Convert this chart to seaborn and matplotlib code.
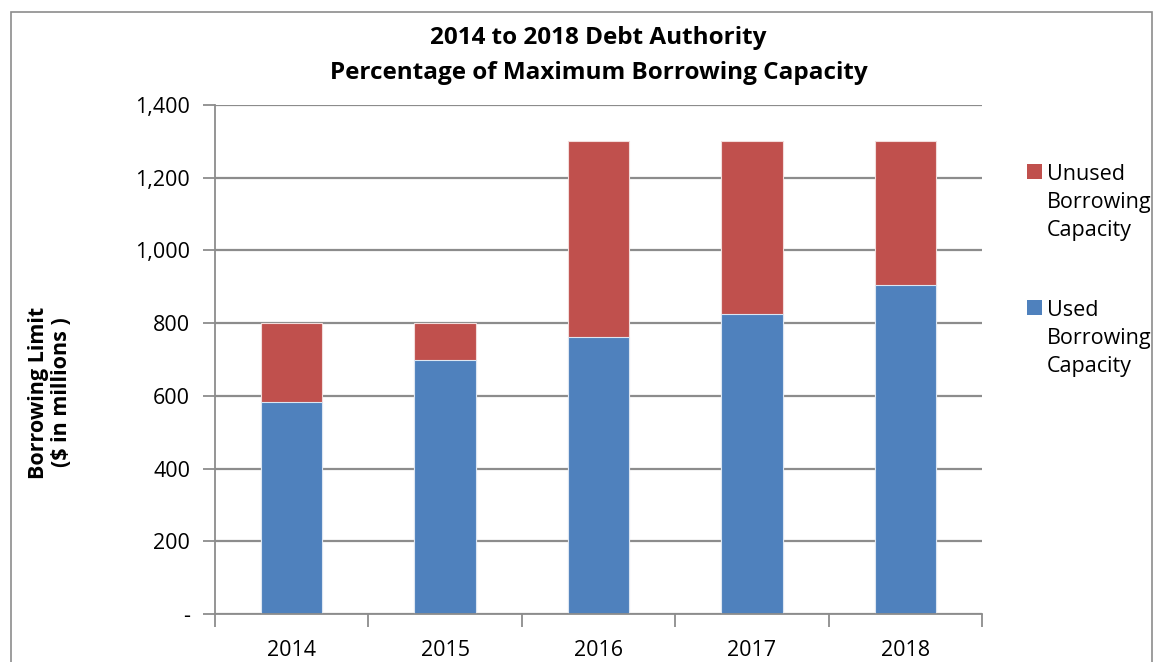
import matplotlib
matplotlib.use("Agg")
import matplotlib.pyplot as plt
from matplotlib.patches import Rectangle
from matplotlib.ticker import FixedLocator, FuncFormatter
import seaborn as sns
import pandas as pd

years = ["2014", "2015", "2016", "2017", "2018"]
used = [582, 698, 761, 824, 904]
total_limit = [800, 800, 1300, 1300, 1300]
unused = [t - u for t, u in zip(total_limit, used)]
y_ticks = [0, 200, 400, 600, 800, 1000, 1200, 1400]
legend_labels = ["Unused\nBorrowing\nCapacity", "Used\nBorrowing\nCapacity"]

BLUE = "#4F81BD"
RED = "#C0504D"
GRID = "#8C8C8C"

sns.set_theme(style="white")
plt.rcParams["font.family"] = ["Open Sans", "DejaVu Sans"]
plt.rcParams["text.color"] = "#000000"
plt.rcParams["axes.labelcolor"] = "#000000"

df = pd.DataFrame({"year": years, "used": used, "unused": unused,
                   "total": total_limit})

W, H = 1166, 662
fig = plt.figure(figsize=(W / 100, H / 100), dpi=100)
ax = fig.add_axes([215 / W, 48 / H, 767 / W, 509 / H])

# stacked bars: full limit underneath in red, used portion on top in blue
sns.barplot(data=df, x="year", y="total", color=RED, saturation=1,
            width=0.4, edgecolor="#F2DCDB", linewidth=0.8, ax=ax)
sns.barplot(data=df, x="year", y="used", color=BLUE, saturation=1,
            width=0.4, edgecolor="#DCE6F2", linewidth=0.8, ax=ax)

ax.set_xlim(-0.5, len(years) - 0.5)
ax.set_ylim(0, 1400)
ax.yaxis.set_major_locator(FixedLocator(y_ticks))
ax.yaxis.set_major_formatter(FuncFormatter(lambda v, p: "-" if v == 0 else f"{int(v):,}"))
ax.grid(axis="y", color=GRID, linewidth=1.6)
ax.set_axisbelow(True)

for side in ["top", "right"]:
    ax.spines[side].set_visible(False)
for side in ["left", "bottom"]:
    ax.spines[side].set_color(GRID)
    ax.spines[side].set_linewidth(1.3)

# category labels centred, tick marks between categories
ax.set_xticks(range(len(years)))
ax.set_xticklabels(years)
ax.tick_params(axis="x", length=0, pad=19, labelsize=15.5, labelcolor="#000000")
ax.set_xticks([i - 0.5 for i in range(len(years) + 1)], minor=True)
ax.tick_params(axis="x", which="minor", length=9, width=1.3, color=GRID,
               direction="out", bottom=True)
ax.tick_params(axis="y", length=9, width=1.3, color=GRID, direction="out",
               left=True, pad=9, labelsize=15.5, labelcolor="#000000")

ax.set_xlabel("")
ax.set_ylabel("Borrowing Limit\n($ in millions )", fontsize=15.5,
              fontweight="bold", linespacing=1.1, color="#000000")
ax.yaxis.set_label_coords(-0.187, 0.435)

ax.set_title("2014 to 2018 Debt Authority\nPercentage of Maximum Borrowing Capacity",
             fontsize=17.5, fontweight="bold", pad=19, linespacing=1.6,
             color="#000000")

# legend: square marker beside the first line of each wrapped label
legend_colors = [RED, BLUE]
legend_tops = [172, 308]
for label, color, y0 in zip(legend_labels, legend_colors, legend_tops):
    fig.patches.append(Rectangle((1027 / W, 1 - (y0 + 7) / H), 15 / W, 15 / H,
                                 transform=fig.transFigure, facecolor=color,
                                 edgecolor="none"))
    fig.text(1047 / W, 1 - (y0 - 8) / H, label, ha="left", va="top",
             fontsize=15.5, linespacing=1.45, color="#000000")

# chart frame
fig.patches.append(Rectangle((11 / W, -0.05), 1141 / W, 1 + 0.05 - 12 / H,
                             transform=fig.transFigure, fill=False,
                             edgecolor="#8C8C8C", linewidth=1.2))

fig.savefig("out.png", dpi=100, facecolor="white")
